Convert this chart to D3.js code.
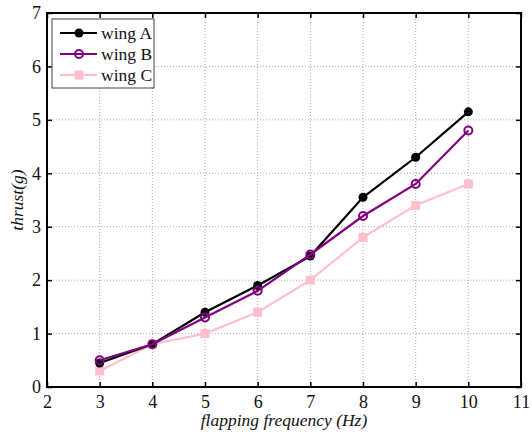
<!DOCTYPE html>
<html>
<head>
<meta charset="utf-8">
<script src="https://cdn.jsdelivr.net/npm/d3@7"></script>
<style>
  body { margin: 0; background: #fff; }
  svg text { font-family: "Liberation Serif", "DejaVu Serif", serif; }
</style>
</head>
<body>
<div class="graph-container"></div>
<script>
// data
const freqs = [3, 4, 5, 6, 7, 8, 9, 10];
const wingA = [0.45, 0.8, 1.4, 1.9, 2.45, 3.55, 4.3, 5.15];
const wingB = [0.5, 0.8, 1.3, 1.8, 2.48, 3.2, 3.8, 4.8];
const wingC = [0.3, 0.8, 1.0, 1.4, 2.0, 2.8, 3.4, 3.8];
const seriesNames = ['wing A', 'wing B', 'wing C'];
const xTicks = [2, 3, 4, 5, 6, 7, 8, 9, 10, 11];
const yTicks = [0, 1, 2, 3, 4, 5, 6, 7];

// graph constants
const w = 532;
const h = 438;
const padL = 47, padR = 521, padT = 13, padB = 387;
const colors = ['#000000', '#800080', '#ffc0cb'];

const svg = d3.select('.graph-container')
    .append('svg')
    .attr('width', w)
    .attr('height', h);

const xScale = d3.scaleLinear().domain([2, 11]).range([padL, padR]);
const yScale = d3.scaleLinear().domain([0, 7]).range([padB, padT]);

// dotted grid
svg.append('g').selectAll('line')
    .data(xTicks.slice(1, -1))
    .enter().append('line')
    .attr('x1', d => xScale(d)).attr('x2', d => xScale(d))
    .attr('y1', padT).attr('y2', padB)
    .attr('stroke', '#aaa').attr('stroke-width', 1)
    .attr('stroke-dasharray', '1,2');
svg.append('g').selectAll('line')
    .data(yTicks.slice(1, -1))
    .enter().append('line')
    .attr('y1', d => yScale(d)).attr('y2', d => yScale(d))
    .attr('x1', padL).attr('x2', padR)
    .attr('stroke', '#aaa').attr('stroke-width', 1)
    .attr('stroke-dasharray', '1,2');

// axes (ticks pointing inward, all four sides)
const styleAxis = g => {
    g.select('.domain').remove();
    g.selectAll('.tick line').attr('stroke', '#000').attr('stroke-width', 1.5);
    g.selectAll('text').attr('font-size', 18).attr('fill', '#111');
};
svg.append('g')
    .attr('transform', `translate(0, ${padB})`)
    .call(d3.axisBottom(xScale).tickValues(xTicks).tickFormat(d3.format('d')).tickSizeInner(-5).tickPadding(8))
    .call(styleAxis);
svg.append('g')
    .attr('transform', `translate(0, ${padT})`)
    .call(d3.axisTop(xScale).tickValues(xTicks).tickSizeInner(-5).tickFormat(''))
    .call(styleAxis);
svg.append('g')
    .attr('transform', `translate(${padL}, 0)`)
    .call(d3.axisLeft(yScale).tickValues(yTicks).tickFormat(d3.format('d')).tickSizeInner(-5).tickPadding(6))
    .call(styleAxis);
svg.append('g')
    .attr('transform', `translate(${padR}, 0)`)
    .call(d3.axisRight(yScale).tickValues(yTicks).tickSizeInner(-5).tickFormat(''))
    .call(styleAxis);

// frame
svg.append('rect')
    .attr('x', padL).attr('y', padT)
    .attr('width', padR - padL).attr('height', padB - padT)
    .attr('fill', 'none').attr('stroke', '#000').attr('stroke-width', 2);

// lines and markers
const line = d3.line().x((d, i) => xScale(freqs[i])).y(d => yScale(d));
const drawMarker = (g, k, x, y) => {
    if (k === 0) {
        g.append('circle').attr('cx', x).attr('cy', y).attr('r', 4.5).attr('fill', colors[0]);
    } else if (k === 1) {
        g.append('circle').attr('cx', x).attr('cy', y).attr('r', 4)
            .attr('fill', 'none').attr('stroke', colors[1]).attr('stroke-width', 2);
    } else {
        g.append('rect').attr('x', x - 4.5).attr('y', y - 4.5).attr('width', 9).attr('height', 9).attr('fill', colors[2]);
    }
};
[wingC, wingA, wingB].forEach(vals => {
    const k = [wingA, wingB, wingC].indexOf(vals);
    const g = svg.append('g');
    g.append('path')
        .datum(vals)
        .attr('d', line)
        .attr('fill', 'none')
        .attr('stroke', colors[k])
        .attr('stroke-width', 2.2);
    vals.forEach((v, i) => drawMarker(g, k, xScale(freqs[i]), yScale(v)));
});

// legend
const lg = svg.append('g');
lg.append('rect')
    .attr('x', 52).attr('y', 19).attr('width', 102).attr('height', 69)
    .attr('fill', '#fff').attr('stroke', '#444').attr('stroke-width', 1);
seriesNames.forEach((name, k) => {
    const y = 33 + k * 21;
    lg.append('line').attr('x1', 60).attr('x2', 97).attr('y1', y).attr('y2', y)
        .attr('stroke', colors[k]).attr('stroke-width', 2.2);
    drawMarker(lg, k, 79, y);
    lg.append('text').attr('x', 101).attr('y', y + 6)
        .attr('font-size', 17.5).attr('fill', '#111').text(name);
});

// axis titles
svg.append('text')
    .attr('x', (padL + padR) / 2).attr('y', 426)
    .attr('text-anchor', 'middle').attr('font-style', 'italic')
    .attr('font-size', 17.5).attr('fill', '#111')
    .text('flapping frequency (Hz)');
svg.append('text')
    .attr('transform', `translate(23, ${(padT + padB) / 2}) rotate(-90)`)
    .attr('text-anchor', 'middle').attr('font-style', 'italic')
    .attr('font-size', 17.5).attr('fill', '#111')
    .text('thrust(g)');
</script>
</body>
</html>
